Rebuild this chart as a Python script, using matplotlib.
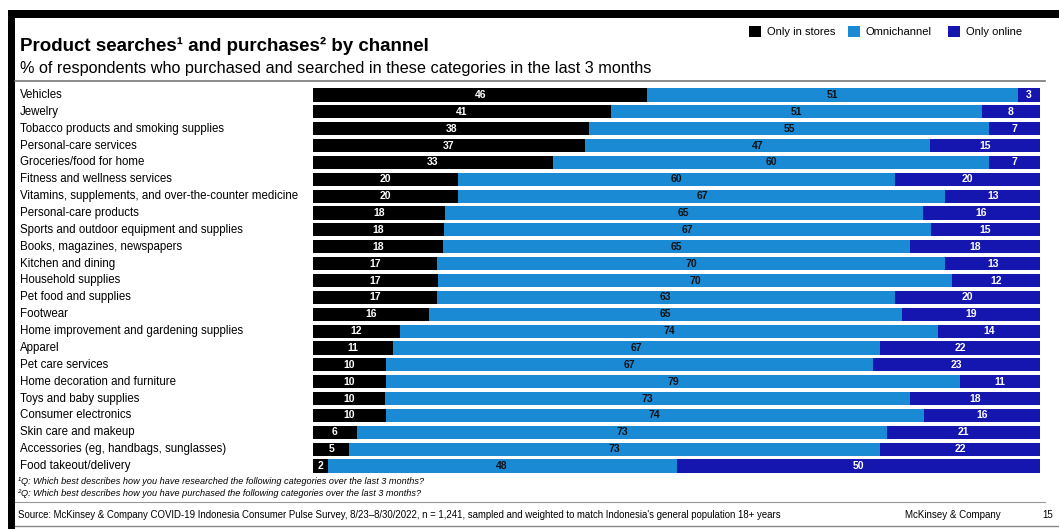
import numpy as np
import matplotlib.pyplot as plt
from matplotlib.patches import Rectangle
from matplotlib.lines import Line2D
from matplotlib.transforms import blended_transform_factory

plt.rcParams["font.family"] = ["Liberation Sans", "DejaVu Sans"]

categories = [
    "Vehicles",
    "Jewelry",
    "Tobacco products and smoking supplies",
    "Personal-care services",
    "Groceries/food for home",
    "Fitness and wellness services",
    "Vitamins, supplements, and over-the-counter medicine",
    "Personal-care products",
    "Sports and outdoor equipment and supplies",
    "Books, magazines, newspapers",
    "Kitchen and dining",
    "Household supplies",
    "Pet food and supplies",
    "Footwear",
    "Home improvement and gardening supplies",
    "Apparel",
    "Pet care services",
    "Home decoration and furniture",
    "Toys and baby supplies",
    "Consumer electronics",
    "Skin care and makeup",
    "Accessories (eg, handbags, sunglasses)",
    "Food takeout/delivery",
]
only_stores = [46, 41, 38, 37, 33, 20, 20, 18, 18, 18, 17, 17, 17, 16, 12, 11, 10, 10, 10, 10, 6, 5, 2]
omnichannel = [51, 51, 55, 47, 60, 60, 67, 65, 67, 65, 70, 70, 63, 65, 74, 67, 67, 79, 73, 74, 73, 73, 48]
only_online = [3, 8, 7, 15, 7, 20, 13, 16, 15, 18, 13, 12, 20, 19, 14, 22, 23, 11, 18, 16, 21, 22, 50]

series_names = ["Only in stores", "Omnichannel", "Only online"]
colors = ["#000000", "#1a8ad4", "#1515b0"]
text_colors = ["white", "#111111", "white"]

W, H = 1059, 529
fig = plt.figure(figsize=(W / 100, H / 100), dpi=100)


def fx(px):
    return px / W


def fy(px):
    return 1 - px / H


# frame: thick black bars top and left, thin grey bottom
fig.add_artist(Rectangle((fx(8), fy(18)), 1 - fx(8), fy(10) - fy(18),
                         transform=fig.transFigure, color="black", lw=0))
fig.add_artist(Rectangle((fx(8), 0), fx(7), fy(10),
                         transform=fig.transFigure, color="black", lw=0))
fig.add_artist(Line2D([fx(15), 1], [fy(526), fy(526)], transform=fig.transFigure,
                      color="#888888", lw=1))

fig.text(fx(20), fy(46), "Product searches\u00b9 and purchases\u00b2 by channel",
         fontsize=13.5, fontweight="bold", va="center", ha="left")
fig.text(fx(20), fy(68), "% of respondents who purchased and searched in these categories in the last 3 months",
         fontsize=11.7, va="center", ha="left")
fig.add_artist(Line2D([fx(15), fx(1045)], [fy(81), fy(81)], transform=fig.transFigure,
                      color="#777777", lw=1.2))

# legend
leg_sq = [749, 848, 948]
for x, name, c in zip(leg_sq, series_names, colors):
    fig.add_artist(Rectangle((fx(x), fy(37)), fx(12), fy(26) - fy(37),
                             transform=fig.transFigure, color=c, lw=0))
    fig.text(fx(x + 18), fy(32), name, fontsize=8, va="center", ha="left")

# bars
top_px, bot_px = 95, 466
step = (bot_px - top_px) / (len(categories) - 1)
ax = fig.add_axes([fx(313), fy(bot_px + step / 2), fx(1040) - fx(313),
                   fy(top_px - step / 2) - fy(bot_px + step / 2)])

data = np.array([only_stores, omnichannel, only_online], dtype=float)
totals = data.sum(axis=0)
shares = data / totals * 100
y = np.arange(len(categories))
left = np.zeros(len(categories))
for i in range(3):
    ax.barh(y, shares[i], left=left, height=0.78, color=colors[i], lw=0)
    for j in range(len(categories)):
        ax.text(left[j] + shares[i][j] / 2, y[j], str(int(data[i][j])),
                ha="center", va="center", fontsize=7.5, fontweight="bold",
                color=text_colors[i])
    left += shares[i]

ax.set_xlim(0, 100)
ax.set_ylim(len(categories) - 0.5, -0.5)
ax.axis("off")

trans = blended_transform_factory(fig.transFigure, ax.transData)
for j, name in enumerate(categories):
    ax.text(fx(20), j, name, transform=trans, ha="left", va="center", fontsize=8.3)

# footnotes and source
fig.text(fx(18), fy(482), "\u00b9Q: Which best describes how you have researched the following categories over the last 3 months?",
         fontsize=6.6, style="italic", va="center")
fig.text(fx(18), fy(493), "\u00b2Q: Which best describes how you have purchased the following categories over the last 3 months?",
         fontsize=6.6, style="italic", va="center")
fig.add_artist(Line2D([fx(15), fx(1045)], [fy(502), fy(502)], transform=fig.transFigure,
                      color="#999999", lw=0.8))
fig.text(fx(18), fy(515), "Source: McKinsey & Company COVID-19 Indonesia Consumer Pulse Survey, 8/23\u20138/30/2022, n = 1,241, "
         "sampled and weighted to match Indonesia's general population 18+ years",
         fontsize=6.9, va="center")
fig.text(fx(905), fy(515), "McKinsey & Company", fontsize=7, va="center")
fig.text(fx(1042), fy(515), "15", fontsize=7, va="center")

fig.savefig("out.png", dpi=100, facecolor="white")
